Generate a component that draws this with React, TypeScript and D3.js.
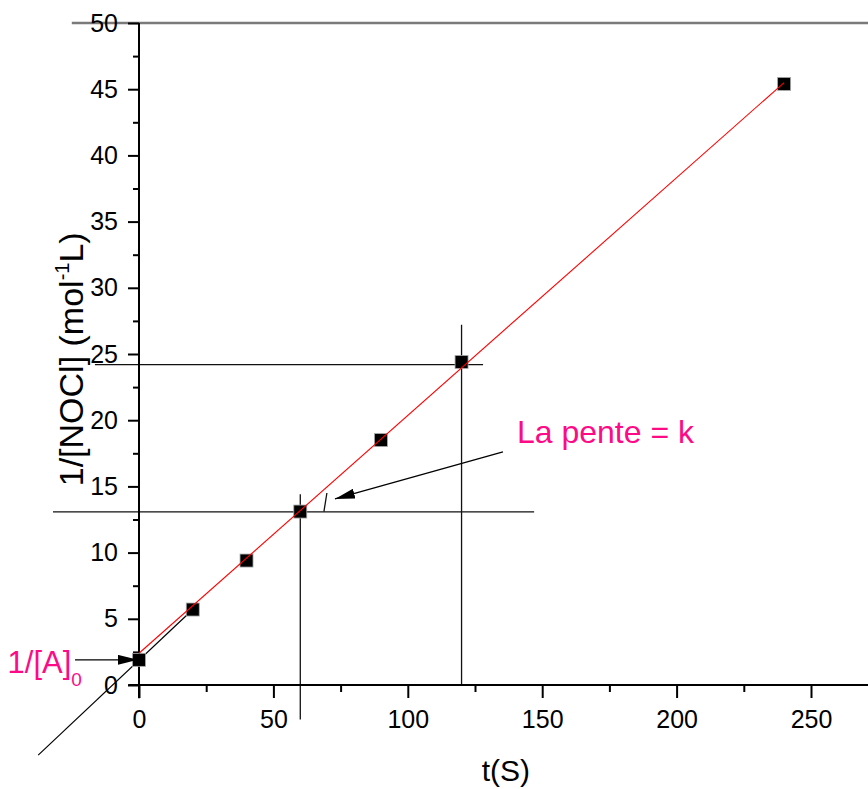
import React, { useEffect, useRef } from 'react';
import * as d3 from 'd3';

// Data
const timeS = [0, 20, 40, 60, 90, 120, 240];
const invConc = [1.9, 5.7, 9.4, 13.1, 18.5, 24.4, 45.4];

// linear fit (red) endpoints
const fitT = [0, 240];
const fitV = [2.4, 45.5];

// extrapolation to negative t (black)
const extT = [-37.5, 20];
const extV = [-5.3, 5.7];

// construction lines used to read the slope
const hGuideY = [24.2, 13.07];
const hGuideFrom = [-16.4, -32];
const hGuideTo = [128, 147];
const vGuideX = [120, 60];
const vGuideFrom = [0, -2.6];
const vGuideTo = [27.2, 14.4];

const xTicks = [0, 50, 100, 150, 200, 250];
const xMinor = [25, 75, 125, 175, 225];
const yTicks = [0, 5, 10, 15, 20, 25, 30, 35, 40, 45, 50];
const yMinor = [2.5, 7.5, 12.5, 17.5, 22.5, 27.5, 32.5, 37.5, 42.5, 47.5];

const PINK = '#ff0a86';
const FONT = '"Liberation Sans", Arial, sans-serif';

const App = () => {
    const svgRef = useRef<SVGSVGElement>(null);

    useEffect(() => {
        const width = 868;
        const height = 789;

        const svg = d3.select(svgRef.current)
            .attr('width', width)
            .attr('height', height)
            .style('font-family', FONT);

        svg.selectAll('*').remove();

        const x = d3.scaleLinear().domain([0, 250]).range([139, 811]);
        const y = d3.scaleLinear().domain([0, 50]).range([685, 23]);

        // arrow marker
        const defs = svg.append('defs');
        defs.append('marker')
            .attr('id', 'arrowHead')
            .attr('viewBox', '0 0 20 10')
            .attr('refX', 20)
            .attr('refY', 5)
            .attr('markerWidth', 20)
            .attr('markerHeight', 10)
            .attr('markerUnits', 'userSpaceOnUse')
            .attr('orient', 'auto')
            .append('path')
            .attr('d', 'M0,0 L20,5 L0,10 Z')
            .attr('fill', '#000');

        // top frame line
        svg.append('line')
            .attr('x1', x(-25)).attr('x2', x(272))
            .attr('y1', y(50)).attr('y2', y(50))
            .attr('stroke', '#7a7a7a')
            .attr('stroke-width', 2.5);

        // guide lines
        const guides = svg.append('g')
            .attr('stroke', '#111')
            .attr('stroke-width', 1.3);
        hGuideY.forEach((v, i) => {
            guides.append('line')
                .attr('x1', x(hGuideFrom[i])).attr('x2', x(hGuideTo[i]))
                .attr('y1', y(v)).attr('y2', y(v));
        });
        vGuideX.forEach((v, i) => {
            guides.append('line')
                .attr('x1', x(v)).attr('x2', x(v))
                .attr('y1', y(vGuideFrom[i])).attr('y2', y(vGuideTo[i]));
        });
        // small slope mark
        guides.append('line')
            .attr('x1', x(69.9)).attr('y1', y(14.5))
            .attr('x2', x(68.8)).attr('y2', y(13.1));

        // extrapolation line
        svg.append('line')
            .attr('x1', x(extT[0])).attr('y1', y(extV[0]))
            .attr('x2', x(extT[1])).attr('y2', y(extV[1]))
            .attr('stroke', '#000')
            .attr('stroke-width', 1.2);

        // axes: x
        const gx = svg.append('g')
            .attr('transform', `translate(0,${y(0)})`)
            .call(d3.axisBottom(x).tickValues(xTicks).tickSize(13).tickPadding(12).tickSizeOuter(0));
        gx.select('.domain').remove();
        gx.selectAll('line').attr('stroke-width', 2);
        gx.selectAll('text').attr('font-size', 25).attr('font-family', FONT).attr('fill', '#000');

        const gxm = svg.append('g')
            .attr('transform', `translate(0,${y(0)})`)
            .call(d3.axisBottom(x).tickValues(xMinor).tickSize(7).tickFormat(() => ''));
        gxm.select('.domain').remove();
        gxm.selectAll('line').attr('stroke-width', 2);

        svg.append('line')
            .attr('x1', x(-4)).attr('x2', width)
            .attr('y1', y(0)).attr('y2', y(0))
            .attr('stroke', '#000').attr('stroke-width', 2);

        // axes: y
        const gy = svg.append('g')
            .attr('transform', `translate(${x(0)},0)`)
            .call(d3.axisLeft(y).tickValues(yTicks).tickSize(11).tickPadding(10).tickSizeOuter(0));
        gy.select('.domain').remove();
        gy.selectAll('line').attr('stroke-width', 2);
        gy.selectAll('text').attr('font-size', 25).attr('font-family', FONT).attr('fill', '#000');

        const gym = svg.append('g')
            .attr('transform', `translate(${x(0)},0)`)
            .call(d3.axisLeft(y).tickValues(yMinor).tickSize(6).tickFormat(() => ''));
        gym.select('.domain').remove();
        gym.selectAll('line').attr('stroke-width', 2);

        svg.append('line')
            .attr('x1', x(0)).attr('x2', x(0))
            .attr('y1', y(50)).attr('y2', y(-1))
            .attr('stroke', '#000').attr('stroke-width', 2);

        const fitLine = d3.line<[number, number]>().x(d => x(d[0])).y(d => y(d[1]));
        const fitData = fitT.map((t, i) => [t, fitV[i]] as [number, number]);

        // data points
        const s = 13;
        svg.append('g')
            .selectAll('rect')
            .data(timeS)
            .join('rect')
            .attr('x', d => x(d) - s / 2)
            .attr('y', (_, i) => y(invConc[i]) - s / 2)
            .attr('width', s)
            .attr('height', s)
            .attr('fill', '#000')
            .attr('stroke', '#aaa')
            .attr('stroke-width', 0.8);

        // fit line, drawn over the markers
        svg.append('path')
            .datum(fitData)
            .attr('d', fitLine)
            .attr('fill', 'none')
            .attr('stroke', '#ff0000')
            .attr('stroke-width', 1.1);

        // annotation: slope arrow
        svg.append('line')
            .attr('x1', x(135.4)).attr('y1', y(17.6))
            .attr('x2', x(72.9)).attr('y2', y(14.05))
            .attr('stroke', '#000').attr('stroke-width', 1.3)
            .attr('marker-end', 'url(#arrowHead)');

        svg.append('text')
            .attr('x', x(140.6)).attr('y', y(18.3))
            .attr('font-size', 32)
            .attr('fill', PINK)
            .text('La pente = k');

        // annotation: intercept arrow
        svg.append('line')
            .attr('x1', x(-23.8)).attr('y1', y(1.9))
            .attr('x2', x(-0.4)).attr('y2', y(1.9))
            .attr('stroke', '#000').attr('stroke-width', 1.3)
            .attr('marker-end', 'url(#arrowHead)');

        const a0 = svg.append('text')
            .attr('x', x(-48.9)).attr('y', y(0.9))
            .attr('font-size', 31)
            .attr('fill', PINK);
        a0.append('tspan').text('1/[A]');
        a0.append('tspan').attr('font-size', 19).attr('dy', 13).text('0');

        // axis titles
        svg.append('text')
            .attr('x', x(136.5))
            .attr('y', 781)
            .attr('text-anchor', 'middle')
            .attr('font-size', 30)
            .attr('fill', '#000')
            .text('t(S)');

        const yt = svg.append('text')
            .attr('transform', `translate(83,${y(24.6)}) rotate(-90)`)
            .attr('text-anchor', 'middle')
            .attr('font-size', 34)
            .attr('fill', '#000');
        yt.append('tspan').text('1/[NOCl] (mol');
        yt.append('tspan').attr('font-size', 20).attr('dy', -14).text('-1');
        yt.append('tspan').attr('dy', 14).text('L)');
    }, []);

    return (
        <svg ref={svgRef} style={{ position: 'absolute', left: 0, top: 0 }}></svg>
    );
};

export default App;
